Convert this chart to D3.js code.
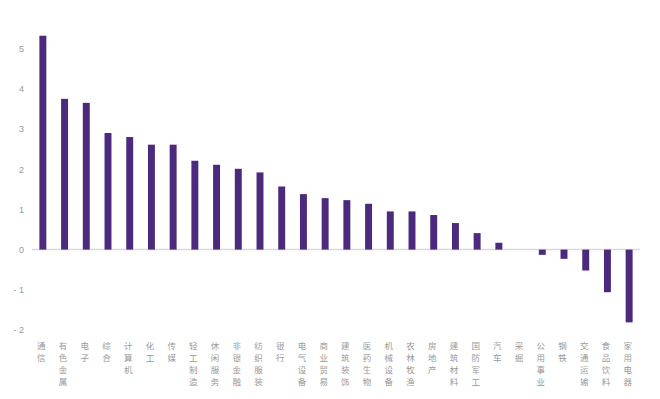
<!DOCTYPE html>
<meta charset="utf-8">
<script src="https://cdn.jsdelivr.net/npm/d3@7"></script>
<style>
  body { margin: 0; background: #fff; }
  text { font-family: "Noto Sans CJK SC", "Noto Sans", sans-serif; }
</style>
<div id="my_dataviz"></div>
<script>

// industries (x categories) and their values
var industries = ["通信", "有色金属", "电子", "综合", "计算机", "化工", "传媒",
  "轻工制造", "休闲服务", "非银金融", "纺织服装", "银行", "电气设备", "商业贸易",
  "建筑装饰", "医药生物", "机械设备", "农林牧渔", "房地产", "建筑材料", "国防军工",
  "汽车", "采掘", "公用事业", "钢铁", "交通运输", "食品饮料", "家用电器"];
var values = [5.32, 3.75, 3.65, 2.9, 2.8, 2.61, 2.61,
  2.21, 2.11, 2.01, 1.92, 1.57, 1.38, 1.28,
  1.23, 1.14, 0.95, 0.95, 0.86, 0.66, 0.41,
  0.17, 0, -0.13, -0.23, -0.52, -1.06, -1.81];
var yTicks = [-2, -1, 0, 1, 2, 3, 4, 5];

var width = 660, height = 399;

var svg = d3.select("#my_dataviz")
  .append("svg")
    .attr("width", width)
    .attr("height", height);

var x = d3.scaleBand()
  .domain(industries)
  .range([32, 640])
  .paddingInner(0.68)
  .paddingOuter(0.34);

var y = d3.scaleLinear()
  .domain([-2, 5])
  .range([330, 48.6]);

// y axis labels only
var yAxis = svg.append("g")
  .attr("transform", "translate(24,0)")
  .call(d3.axisLeft(y).tickValues(yTicks).tickSize(0).tickPadding(0)
    .tickFormat(function(d) { return d < 0 ? "- " + Math.abs(d) : d; }));
yAxis.select(".domain").remove();
yAxis.selectAll("text")
  .attr("fill", "#999")
  .style("font-size", "9px")
  .style("font-family", "Liberation Sans, sans-serif");

// zero line
svg.append("line")
  .attr("x1", 32).attr("x2", 640)
  .attr("y1", y(0)).attr("y2", y(0))
  .attr("stroke", "#d9d9d9")
  .attr("stroke-width", 1.5);

// bars
var data = industries.map(function(d, i) { return {name: d, value: values[i]}; });

svg.selectAll("rect.bar")
  .data(data.filter(function(d) { return d.value !== 0; }))
  .enter()
  .append("rect")
    .attr("class", "bar")
    .attr("x", function(d) { return x(d.name); })
    .attr("y", function(d) { return y(Math.max(0, d.value)); })
    .attr("width", x.bandwidth())
    .attr("height", function(d) { return Math.abs(y(d.value) - y(0)); })
    .attr("fill", "#4b2a7e");

// vertical category labels, one char per line
var labels = svg.selectAll("text.cat")
  .data(industries)
  .enter()
  .append("text")
    .attr("class", "cat")
    .attr("text-anchor", "middle")
    .attr("fill", "#999")
    .style("font-size", "8.5px");

labels.selectAll("tspan")
  .data(function(d) {
    var cx = x(d) + x.bandwidth() / 2 - 1.5;
    return d.split("").map(function(c) { return {c: c, cx: cx}; });
  })
  .enter()
  .append("tspan")
    .attr("x", function(d) { return d.cx; })
    .attr("y", function(d, i) { return 349 + i * 12; })
    .text(function(d) { return d.c; });

</script>
